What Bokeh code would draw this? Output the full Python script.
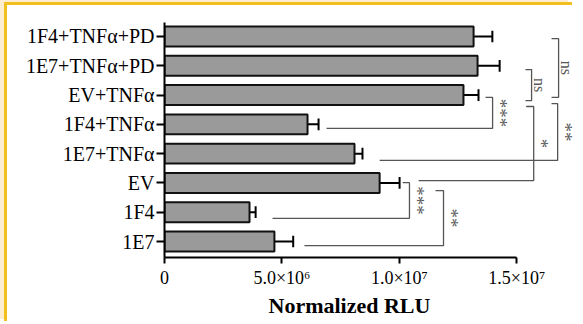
import math
from bokeh.plotting import figure
from bokeh.models import FixedTicker, Range1d, ColumnDataSource, Title
from bokeh.core.properties import value
from bokeh.embed import file_html
from bokeh.resources import INLINE

# ---------------- data ----------------
categories = ["1E7", "1F4", "EV", "1E7+TNFα", "1F4+TNFα", "EV+TNFα",
              "1E7+TNFα+PD", "1F4+TNFα+PD"]
rlu_mean = [4.68e6, 3.62e6, 9.16e6, 8.09e6, 6.09e6, 1.273e7, 1.333e7, 1.316e7]
rlu_err = [0.80e6, 0.26e6, 0.85e6, 0.34e6, 0.47e6, 0.64e6, 0.94e6, 0.80e6]

x_ticks = [0, 5000000, 10000000, 15000000]
x_tick_labels = ["0", "5.0×10⁶", "1.0×10⁷", "1.5×10⁷"]
x_title = "Normalized RLU"

# significance comparisons: (upper group, lower group, label)
comp_upper = ["EV+TNFα", "1E7+TNFα+PD", "1F4+TNFα+PD", "EV+TNFα", "EV+TNFα", "EV", "EV"]
comp_lower = ["1F4+TNFα", "EV+TNFα", "EV+TNFα", "EV", "1E7+TNFα", "1F4", "1E7"]
comp_label = ["***", "ns", "ns", "*", "**", "***", "**"]

# bracket layout (positions only)
br_x = [1.397e7, 1.563e7, 1.678e7, 1.572e7, 1.674e7, 1.043e7, 1.188e7]
br_top_off = [-0.08, -0.13, -0.07, -0.39, -0.29, 0.01, -0.26]
br_bot_off = [-0.14, -0.19, -0.08, 0.08, -0.23, -0.21, -0.14]
br_top_start = [1.367e7, 1.537e7, 1.648e7, 1.540e7, 1.648e7, 1.014e7, 1.154e7]
br_bot_start = [6.9e6, 1.537e7, 1.648e7, 1.082e7, 9.16e6, 4.6e6, 5.96e6]
lab_dx = 3.4e5

FONT = "Liberation Serif"

p = figure(width=568, height=319,
           x_range=Range1d(0, 1.75e7), y_range=Range1d(-0.546, 7.478),
           output_backend="svg", toolbar_location=None,
           min_border_left=157, min_border_right=0,
           min_border_top=17, min_border_bottom=67)
p.styles = {"margin-left": "7px", "margin-top": "5px",
            "box-shadow": "-3px -3px 0 0 #F3BF1E, -7px -5px 0 0 #FCEDD1"}
p.outline_line_color = None
p.xgrid.grid_line_color = None
p.ygrid.grid_line_color = None
p.background_fill_color = "white"
p.border_fill_color = "white"

idx = list(range(len(categories)))
src = ColumnDataSource(dict(y=idx, mean=rlu_mean, err=rlu_err,
                            hi=[m + e for m, e in zip(rlu_mean, rlu_err)],
                            cap_lo=[i - 0.2 for i in idx],
                            cap_hi=[i + 0.2 for i in idx]))

# error bars
p.segment(x0="mean", y0="y", x1="hi", y1="y", source=src,
          line_color="black", line_width=2)
p.segment(x0="hi", y0="cap_lo", x1="hi", y1="cap_hi", source=src,
          line_color="black", line_width=2)
# bars
p.hbar(y="y", left=0, right="mean", height=0.68, source=src,
       fill_color="#9a9a9a", line_color="#111111", line_width=2)

# brackets
xs, ys, lx, ly, fs = [], [], [], [], []
for i in range(len(comp_label)):
    yt = categories.index(comp_upper[i]) + br_top_off[i]
    yb = categories.index(comp_lower[i]) + br_bot_off[i]
    xs.append([br_top_start[i], br_x[i], br_x[i], br_bot_start[i]])
    ys.append([yt, yt, yb, yb])
    lx.append(br_x[i] + lab_dx)
    ly.append((yt + yb) / 2)
    fs.append("16px" if comp_label[i] == "ns" else "19px")
p.multi_line(xs=xs, ys=ys, line_color="#555555", line_width=1.3)
lab_src = ColumnDataSource(dict(x=lx, y=ly, text=comp_label, size=fs))
p.text(x="x", y="y", text="text", source=lab_src, angle=-math.pi / 2,
       text_align="center", text_baseline="middle",
       text_font=value(FONT), text_font_size="size", text_color="#5a5a5a")

# axes
for ax in (p.xaxis[0], p.yaxis[0]):
    ax.axis_line_width = 2
    ax.axis_line_color = "black"
    ax.major_tick_line_width = 2
    ax.major_tick_line_color = "black"
    ax.major_tick_out = 6
    ax.major_tick_in = 0
    ax.minor_tick_line_color = None
    ax.major_label_text_font = FONT
    ax.major_label_text_color = "black"

p.xaxis.ticker = FixedTicker(ticks=x_ticks)
p.xaxis.major_label_overrides = dict(zip(x_ticks, x_tick_labels))
p.xaxis.bounds = (0, 15000000)
p.xaxis.major_label_text_font_size = "18px"
p.xaxis.major_label_standoff = 4

p.add_layout(Title(text=x_title, align="left", offset=104,
                   text_font=FONT, text_font_style="bold",
                   text_font_size="22px", text_color="black",
                   standoff=0), "below")

p.yaxis.ticker = FixedTicker(ticks=idx)
p.yaxis.major_label_overrides = dict(zip(idx, categories))
p.yaxis.major_label_text_font_size = "20px"
p.yaxis.major_tick_out = 8
p.yaxis.major_label_standoff = 2

open("out.html", "w").write(file_html(p, INLINE))
